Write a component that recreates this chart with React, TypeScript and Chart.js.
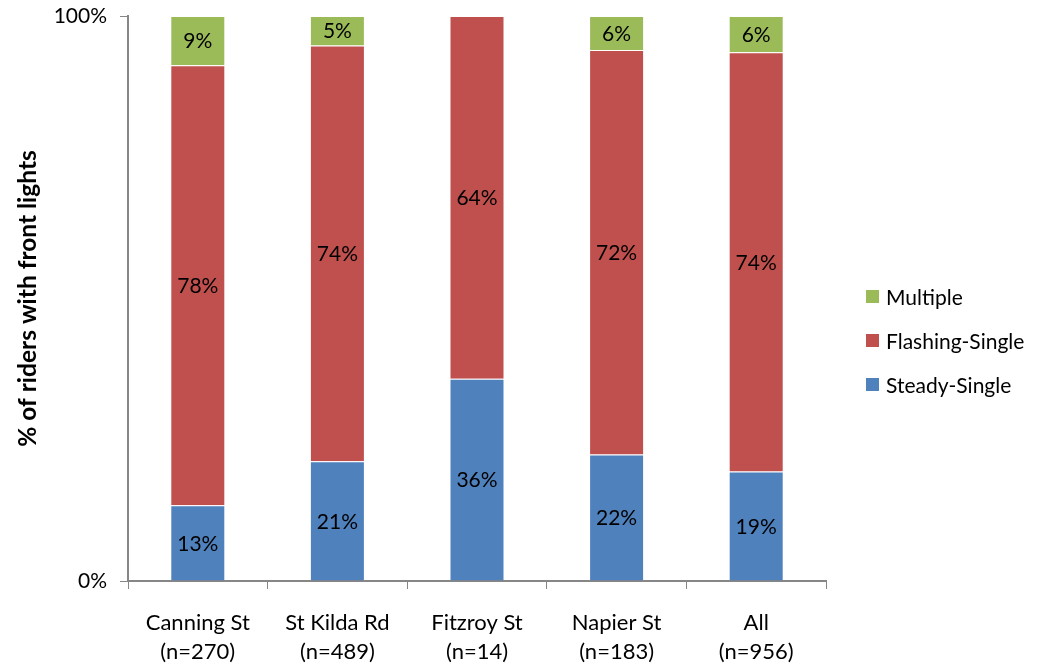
import React, { useEffect, useRef } from "react";
import { Chart, registerables } from "chart.js";

Chart.register(...registerables);

const categories: string[][] = [
  ["Canning St", "(n=270)"],
  ["St Kilda Rd", "(n=489)"],
  ["Fitzroy St", "(n=14)"],
  ["Napier St", "(n=183)"],
  ["All", "(n=956)"],
];
const steadySingle = [13.4, 21.2, 35.8, 22.4, 19.4];
const flashingSingle = [77.9, 73.6, 64.2, 71.6, 74.2];
const multiple = [8.7, 5.2, 0, 6.0, 6.4];
const yTicks = [0, 100];

const FONT = "Lato, 'Open Sans', sans-serif";
const AXIS = "#868686";

const barLabels = {
  id: "barLabels",
  afterDatasetsDraw(chart: any) {
    const ctx = chart.ctx;
    ctx.save();
    ctx.font = `21px ${FONT}`;
    ctx.fillStyle = "#000";
    ctx.textAlign = "center";
    ctx.textBaseline = "middle";
    chart.data.datasets.forEach((ds: any, di: number) => {
      const meta = chart.getDatasetMeta(di);
      meta.data.forEach((el: any, i: number) => {
        const v = ds.data[i];
        if (!v) return;
        const y = (el.y + el.base) / 2;
        ctx.fillText(Math.round(v) + "%", el.x, y + 1);
      });
    });
    ctx.restore();
  },
};

const sideLegend = {
  id: "sideLegend",
  afterDraw(chart: any) {
    const ctx = chart.ctx;
    const area = chart.chartArea;
    const items = chart.data.datasets.slice().reverse();
    const x = area.right + 40;
    const spacing = 44;
    const cy = (area.top + area.bottom) / 2 + 42.5;
    const startY = cy - ((items.length - 1) * spacing) / 2;
    ctx.save();
    ctx.font = `21px ${FONT}`;
    ctx.textAlign = "left";
    ctx.textBaseline = "middle";
    items.forEach((ds: any, i: number) => {
      const y = startY + i * spacing;
      ctx.fillStyle = ds.backgroundColor;
      ctx.fillRect(x, y - 7, 13, 13);
      ctx.fillStyle = "#000";
      ctx.fillText(ds.label, x + 20, y + 1);
    });
    ctx.restore();
  },
};

export default function App() {
  const ref = useRef<HTMLCanvasElement>(null);
  useEffect(() => {
    if (!ref.current) return;
    const chart = new Chart(ref.current, {
      type: "bar",
      data: {
        labels: categories,
        datasets: [
          { label: "Steady-Single", data: steadySingle, backgroundColor: "#4F81BD", borderColor: "rgba(255,255,255,0.35)", borderWidth: 1 },
          { label: "Flashing-Single", data: flashingSingle, backgroundColor: "#C0504D", borderColor: "rgba(255,255,255,0.35)", borderWidth: 1 },
          { label: "Multiple", data: multiple, backgroundColor: "#9BBB59", borderColor: "rgba(255,255,255,0.35)", borderWidth: 1 },
        ],
      },
      options: {
        animation: false,
        responsive: false,
        maintainAspectRatio: false,
        layout: { padding: { top: 16, right: 214, left: 0, bottom: 0 } },
        datasets: { bar: { categoryPercentage: 1, barPercentage: 0.394 } },
        plugins: {
          legend: { display: false },
          tooltip: { enabled: false },
        },
        scales: {
          x: {
            stacked: true,
            afterFit: (s: any) => { s.height = 85; s.paddingLeft = 0; s.paddingRight = 0; },
            grid: { display: true, drawOnChartArea: false, drawTicks: true, tickLength: 8, color: AXIS, offset: true },
            border: { color: AXIS, width: 2 },
            ticks: { color: "#000", font: { family: FONT, size: 22, lineHeight: 1.3 }, padding: 20, maxRotation: 0 },
          },
          y: {
            stacked: true,
            min: 0,
            max: 100,
            afterFit: (s: any) => { s.width = 128; s.paddingTop = 0; s.paddingBottom = 0; },
            afterBuildTicks: (s: any) => { s.ticks = yTicks.map((v) => ({ value: v })); },
            grid: { display: true, drawOnChartArea: false, drawTicks: true, tickLength: 8, color: AXIS },
            border: { color: AXIS, width: 2 },
            ticks: { color: "#000", font: { family: FONT, size: 21 }, padding: 13, callback: (v: any) => v + "%" },
            title: {
              display: true,
              text: "% of riders with front lights",
              color: "#000",
              font: { family: FONT, size: 24.5, weight: "bold" },
              padding: { top: 13, bottom: 0 },
            },
          },
        },
      },
      plugins: [barLabels, sideLegend],
    });
    return () => chart.destroy();
  }, []);
  return (
    <div style={{ position: "fixed", left: 0, top: 0, width: 1040, height: 666, background: "#fff" }}>
      <canvas ref={ref} width={1040} height={666} style={{ width: 1040, height: 666 }} />
    </div>
  );
}
